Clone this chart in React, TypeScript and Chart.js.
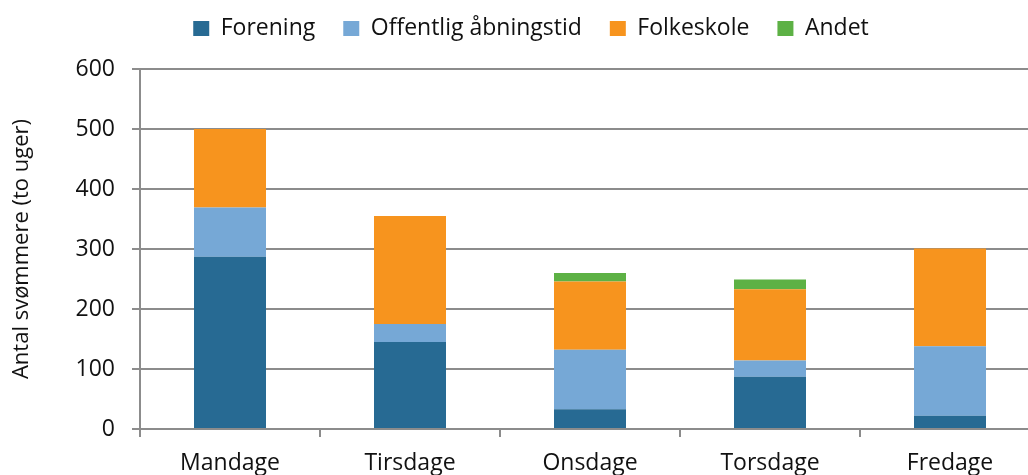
import React, { useEffect, useRef } from "react";
import { Chart, registerables } from "chart.js";

Chart.register(...registerables);

const categories = ["Mandage", "Tirsdage", "Onsdage", "Torsdage", "Fredage"];
const forening = [287, 145, 33, 87, 22];
const offentlig = [82, 30, 99, 27, 116];
const folkeskole = [131, 180, 114, 119, 163];
const andet = [0, 0, 14, 16, 0];
const yTicks = [0, 100, 200, 300, 400, 500, 600];

const FONT = "'Open Sans', sans-serif";

const legendGap = {
  id: "legendGap",
  beforeLayout(chart: any) {
    const lg = chart.legend;
    if (lg && !lg.__patched) {
      const orig = lg.fit.bind(lg);
      lg.fit = () => {
        orig();
        lg.height += 19;
      };
      lg.__patched = true;
    }
  },
  afterLayout(chart: any) {
    const lg = chart.legend;
    if (lg) lg.left += 22;
  },
};

export default function App() {
  const ref = useRef<HTMLCanvasElement | null>(null);

  useEffect(() => {
    if (!ref.current) return;
    const chart = new Chart(ref.current, {
      type: "bar",
      data: {
        labels: categories,
        datasets: [
          { label: "Forening", data: forening, backgroundColor: "#276A93" },
          { label: "Offentlig åbningstid", data: offentlig, backgroundColor: "#76A8D6" },
          { label: "Folkeskole", data: folkeskole, backgroundColor: "#F7941E" },
          { label: "Andet", data: andet, backgroundColor: "#5DB145" },
        ],
      },
      plugins: [legendGap],
      options: {
        responsive: false,
        animation: false,
        layout: { padding: { top: -11, right: 8, left: 0, bottom: 0 } },
        datasets: {
          bar: { categoryPercentage: 1, barPercentage: 0.4, borderWidth: 0 },
        },
        plugins: {
          tooltip: { enabled: false },
          legend: {
            position: "top",
            labels: {
              font: { family: FONT, size: 23 },
              color: "#111",
              boxWidth: 16,
              boxHeight: 15,
              padding: 28,
            },
          },
        },
        scales: {
          x: {
            stacked: true,
            afterFit: (s: any) => {
              s.height = 46;
            },
            grid: {
              offset: true,
              drawOnChartArea: false,
              drawTicks: true,
              tickLength: 8,
              color: "#8c8c8c",
              lineWidth: 2,
            },
            border: { color: "#8c8c8c", width: 2 },
            ticks: {
              font: { family: FONT, size: 23 },
              color: "#111",
              padding: 13,
            },
          },
          y: {
            stacked: true,
            min: 0,
            max: 600,
            afterFit: (s: any) => {
              s.width = 140;
            },
            afterBuildTicks: (s: any) => {
              s.ticks = yTicks.map((v) => ({ value: v }));
            },
            grid: {
              color: "#8c8c8c",
              lineWidth: 2,
              tickLength: 8,
            },
            border: { color: "#8c8c8c", width: 2 },
            ticks: {
              font: { family: FONT, size: 23 },
              color: "#111",
              padding: 17,
            },
            title: {
              display: true,
              text: "Antal svømmere (to uger)",
              font: { family: FONT, size: 22 },
              color: "#111",
              padding: { top: 9, bottom: 0 },
            },
          },
        },
      },
    });
    return () => chart.destroy();
  }, []);

  return (
    <div
      style={{
        position: "absolute",
        left: 0,
        top: 0,
        width: 1028,
        height: 475,
        overflow: "hidden",
        background: "#fff",
      }}
    >
      <canvas ref={ref} width={1048} height={475} style={{ display: "block" }} />
    </div>
  );
}
